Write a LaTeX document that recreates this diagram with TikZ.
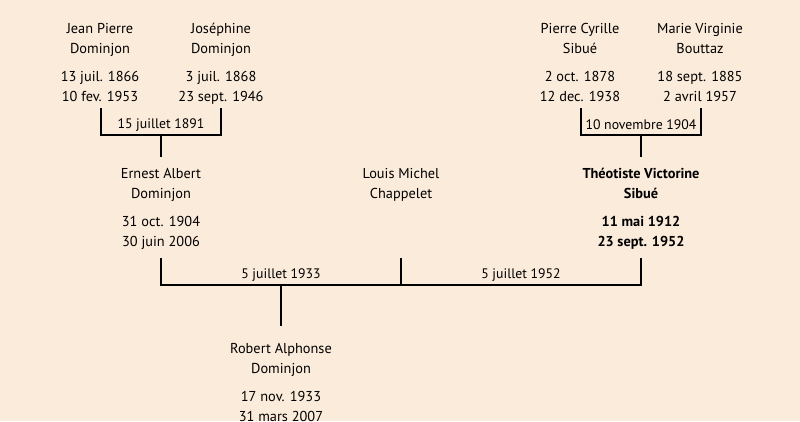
\documentclass[tikz,border=0pt]{standalone}
\usepackage{fontspec}
\setmainfont{PT Sans}
\definecolor{paper}{RGB}{251,235,218}

\tikzset{
  person/.style={align=center, inner sep=0pt, outer ysep=0.275cm, anchor=north,
    font=\fontsize{10.2}{14.2}\selectfont},
  date/.style={inner sep=1pt, font=\fontsize{9.8}{11}\selectfont},
  line/.style={line width=1.4pt}
}

\begin{document}
\begin{tikzpicture}[x=0.025cm, y=-0.025cm]
  % background
  \fill [paper] (0, 0) rectangle (800, 421);
  \useasboundingbox (0, 0) rectangle (800, 421);
  % grandparents
  \node [person] (jp) at (100, 12) {Jean Pierre\\Dominjon\\[5.7pt]13 juil. 1866\\10 fev. 1953};
  \node [person] (jo) at (221, 12) {Joséphine\\Dominjon\\[5.7pt]3 juil. 1868\\23 sept. 1946};
  \node [person] (pc) at (580, 12) {Pierre Cyrille\\Sibué\\[5.7pt]2 oct. 1878\\12 dec. 1938};
  \node [person] (mv) at (700, 12) {Marie Virginie\\Bouttaz\\[5.7pt]18 sept. 1885\\2 avril 1957};
  % parents
  \node [person] (ea) at (161, 157) {Ernest Albert\\Dominjon\\[5.7pt]31 oct. 1904\\30 juin 2006};
  \node [person] (lm) at (401, 157) {Louis Michel\\Chappelet};
  \node [person, font=\fontsize{10.2}{14.2}\selectfont\bfseries] (tv) at (641, 157)
    {Théotiste Victorine\\Sibué\\[5.7pt]11 mai 1912\\23 sept. 1952};
  % child
  \node [person, outer ysep=0.425cm] (ra) at (281, 326) {Robert Alphonse\\Dominjon\\[5.7pt]17 nov. 1933\\31 mars 2007};
  % bracket tops and junctions
  \coordinate (jpb) at (101, 108);
  \coordinate (job) at (221, 108);
  \coordinate (pcb) at (581, 108);
  \coordinate (mvb) at (701, 108);
  \coordinate (m1) at (161, 135);
  \coordinate (m2) at (641, 135);
  \coordinate (eab) at (161, 258);
  \coordinate (lmb) at (401, 258);
  \coordinate (tvb) at (641, 258);
  \coordinate (m3) at (281, 285);
  \coordinate (m4) at (401, 285);
  % marriages
  \draw [line] (jpb) |- (m1) -| (job);
  \draw [line] (m1) -- (ea.north);
  \draw [line] (pcb) |- (m2) -| (mvb);
  \draw [line] (m2) -- (tv.north);
  \draw [line] (eab) |- (m4) -| (tvb);
  \draw [line] (lmb) -- (m4);
  \draw [line] (m3) -- (ra.north);
  % wedding dates
  \node [date] (w1) at (161, 125) {15 juillet 1891};
  \node [date] (w2) at (641, 125) {10 novembre 1904};
  \node [date] (w3) at (281, 275) {5 juillet 1933};
  \node [date] (w4) at (521, 275) {5 juillet 1952};
\end{tikzpicture}
\end{document}
